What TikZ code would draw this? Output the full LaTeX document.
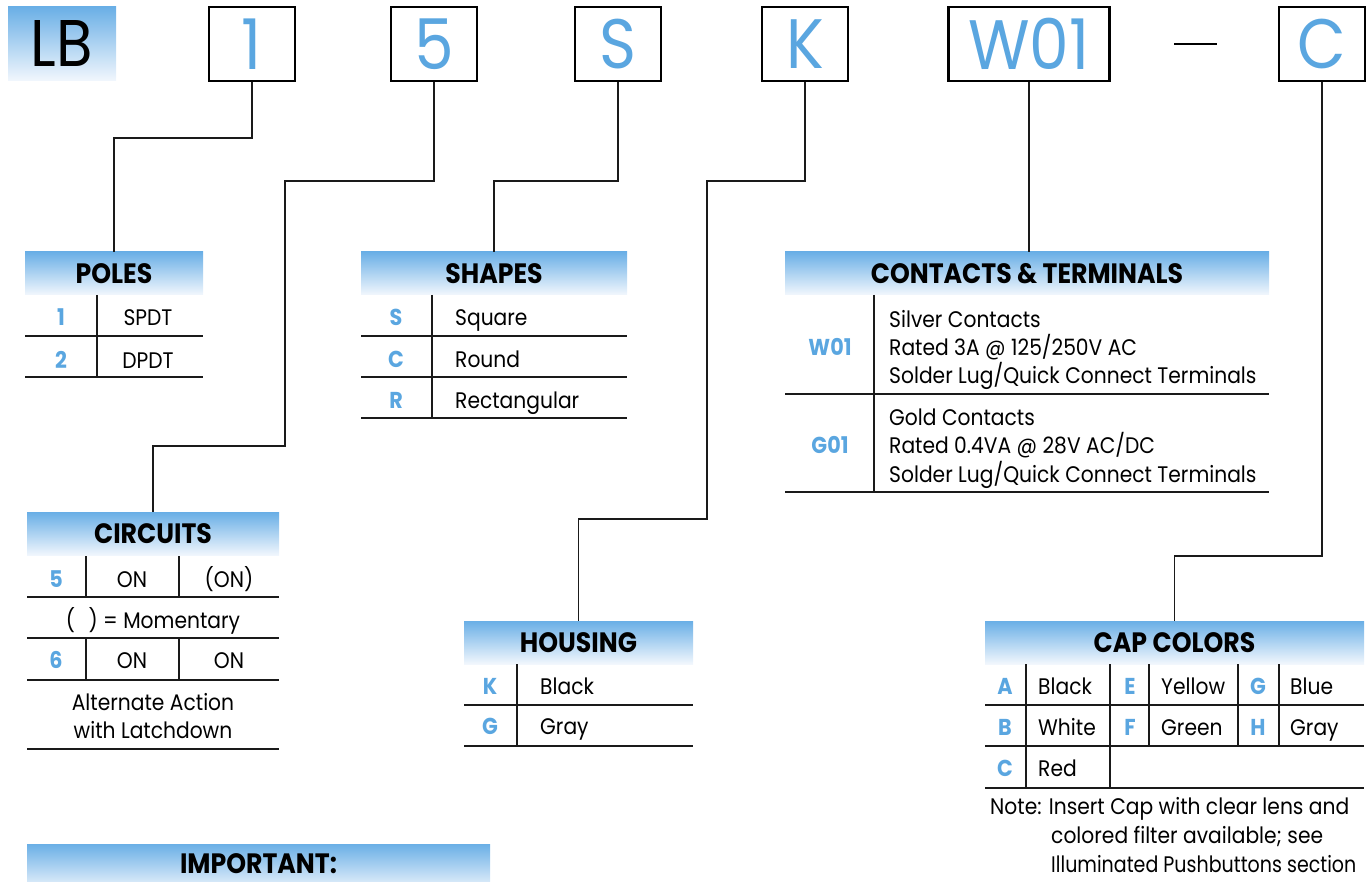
\documentclass[tikz,border=0pt]{standalone}
\usepackage{fontspec}
\setmainfont{Poppins}[FakeStretch=0.9]
\usetikzlibrary{calc}
\definecolor{blu}{HTML}{5AA6E0}
\definecolor{htop}{HTML}{6AAFE6}
\definecolor{hbot}{HTML}{F2F7FD}
\definecolor{ln}{HTML}{1A1A1A}
\tikzset{
 codebox/.style={draw=black, line width=2.8pt, minimum width=#1, minimum height=74pt, inner sep=0pt, font=\fontsize{70}{70}\selectfont, text=blu},
 hdr/.style={top color=htop, bottom color=hbot, draw=none, minimum width=#1, minimum height=43pt, inner sep=0pt, font=\bfseries\fontsize{28}{28}\selectfont},
 conn/.style={draw=ln, line width=1.3pt},
 rule/.style={draw=ln, line width=1.5pt},
 key/.style={anchor=base, text=blu, font=\bfseries\fontsize{23}{23}\selectfont, inner sep=0pt},
 val/.style={anchor=base west, font=\fontsize{22.5}{22.5}\selectfont, inner sep=0pt},
 valc/.style={anchor=base, font=\fontsize{22.5}{22.5}\selectfont, inner sep=0pt},
}
\begin{document}
\begin{tikzpicture}[x=1pt,y=-1pt]
\useasboundingbox (0,0) rectangle (1367,882);
% code boxes
\node[top color=htop, bottom color=hbot, minimum width=108pt, minimum height=74pt, inner sep=0pt, font=\fontsize{66}{66}\selectfont] (lb) at (62,44) {LB};
\node[codebox=86pt] (b1) at (252,44) {1};
\node[codebox=86pt] (b5) at (434,44) {5};
\node[codebox=86pt] (bS) at (618,44) {S};
\node[codebox=86pt] (bK) at (805,44) {K};
\node[codebox=161pt] (bW) at (1029,44) {W01};
\node[codebox=86pt] (bC) at (1322,44) {C};
\draw[black, line width=2.6pt] (1174,44) -- (1217,44);
% headers
\node[hdr=178pt] (poles) at (114,273.5) {POLES};
\node[hdr=266pt] (shapes) at (494,273.5) {SHAPES};
\node[hdr=252pt] (circ) at (153,534) {CIRCUITS};
\node[hdr=229pt] (housing) at (578.5,642.5) {HOUSING};
\node[hdr=484pt] (contacts) at (1027,273.5) {CONTACTS \& TERMINALS};
\node[hdr=379pt] (cap) at (1174.5,642.5) {CAP COLORS};
\node[hdr=463pt, minimum height=38pt, top color=htop, bottom color=hbot!80!htop] (imp) at (258.5,863) {};
\node[anchor=base, inner sep=0pt, font=\bfseries\fontsize{28}{28}\selectfont] (impt) at (258.5,873) {IMPORTANT:};
% connectors
\draw[conn] (b1.south) |- (poles.north |- 0,138) -- (poles.north);
\draw[conn] (b5.south) |- (285,181) |- (circ.north |- 0,446) -- (circ.north);
\draw[conn] (bS.south) |- (shapes.north |- 0,181) -- (shapes.north);
\draw[conn] (bK.south) |- (707,181) |- (housing.north |- 0,519) -- (housing.north);
\draw[conn] (bW.south) -- (bW.south |- contacts.north);
\draw[conn] (bC.south) |- (cap.north |- 0,556) -- (cap.north);
% POLES table
\draw[rule] (97,295) -- (97,377);
\draw[rule] (25,336) -- (203,336) (25,377) -- (203,377);
\node[key] (p1k) at (61,326) {1};
\node[valc] (p1v) at (148,326) {SPDT};
\node[key] (p2k) at (61,368) {2};
\node[valc] (p2v) at (148,368) {DPDT};
% SHAPES table
\draw[rule] (432,295) -- (432,418);
\draw[rule] (361,336) -- (627,336) (361,377) -- (627,377) (361,418) -- (627,418);
\node[key] (s1k) at (396,326) {S};
\node[val] (s1v) at (455,326) {Square};
\node[key] (s2k) at (396,367) {C};
\node[val] (s2v) at (455,367) {Round};
\node[key] (s3k) at (396,408) {R};
\node[val] (s3v) at (455,408) {Rectangular};
% CIRCUITS table
\draw[rule] (86,556) -- (86,597) (179,556) -- (179,597) (86,638) -- (86,680) (179,638) -- (179,680);
\draw[rule] (27,597) -- (279,597) (27,638) -- (279,638) (27,680) -- (279,680) (27,749) -- (279,749);
\node[key] (c1k) at (56,587) {5};
\node[valc] (c1a) at (132,587) {ON};
\node[valc] (c1b) at (229,587) {(ON)};
\node[valc] (c2) at (153,628) {(\hspace{0.6em}) = Momentary};
\node[key] (c3k) at (56,668) {6};
\node[valc] (c3a) at (132,668) {ON};
\node[valc] (c3b) at (229,668) {ON};
\node[valc] (c4a) at (153,710) {Alternate Action};
\node[valc] (c4b) at (153,738) {with Latchdown};
% HOUSING table
\draw[rule] (517,664) -- (517,746);
\draw[rule] (464,705) -- (693,705) (464,746) -- (693,746);
\node[key] (h1k) at (490,694) {K};
\node[val] (h1v) at (540,694) {Black};
\node[key] (h2k) at (490,734) {G};
\node[val] (h2v) at (540,734) {Gray};
% CONTACTS table
\draw[rule] (874,295) -- (874,492);
\draw[rule] (785,394) -- (1269,394) (785,492) -- (1269,492);
\node[key] (w1k) at (830,355) {W01};
\node[val] (w1a) at (889,327) {Silver Contacts};
\node[val] (w1b) at (889,355) {Rated 3A @ 125/250V AC};
\node[val] (w1c) at (889,383) {Solder Lug/Quick Connect Terminals};
\node[key] (g1k) at (830,453) {G01};
\node[val] (g1a) at (889,425) {Gold Contacts};
\node[val] (g1b) at (889,453) {Rated 0.4VA @ 28V AC/DC};
\node[val] (g1c) at (889,482) {Solder Lug/Quick Connect Terminals};
% CAP COLORS table
\draw[rule] (1026,664) -- (1026,788) (1110,664) -- (1110,788) (1149,664) -- (1149,746) (1238,664) -- (1238,746) (1279,664) -- (1279,746);
\draw[rule] (985,705) -- (1364,705) (985,746) -- (1364,746) (985,788) -- (1364,788);
\node[key] (ka) at (1005,694) {A};
\node[val] (va) at (1038,694) {Black};
\node[key] (ke) at (1130,694) {E};
\node[val] (ve) at (1161,694) {Yellow};
\node[key] (kg) at (1258,694) {G};
\node[val] (vg) at (1290,694) {Blue};
\node[key] (kb) at (1005,735) {B};
\node[val] (vb) at (1038,735) {White};
\node[key] (kf) at (1130,735) {F};
\node[val] (vf) at (1161,735) {Green};
\node[key] (kh) at (1258,735) {H};
\node[val] (vh) at (1290,735) {Gray};
\node[key] (kc) at (1005,776) {C};
\node[val] (vc) at (1038,776) {Red};
\node[val] (n1) at (990,814) {Note: Insert Cap with clear lens and};
\node[val] (n2) at (1051,843) {colored filter available; see};
\node[val] (n3) at (1051,872) {\scalebox{0.94}[1]{Illuminated Pushbuttons section}};
\end{tikzpicture}
\end{document}
